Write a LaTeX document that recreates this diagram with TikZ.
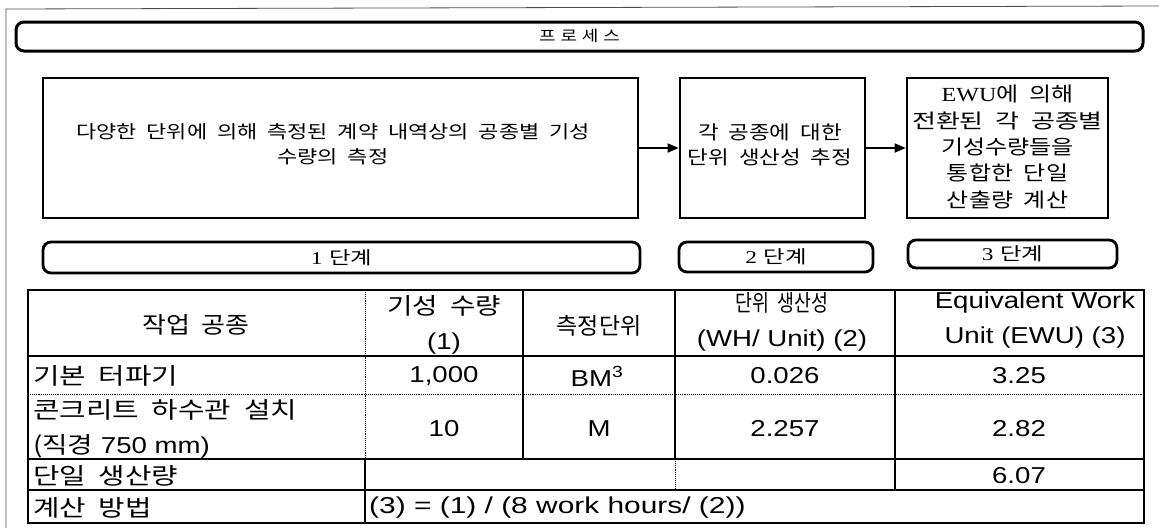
\documentclass[tikz,border=0pt]{standalone}
\usepackage{fontspec}
\usepackage{graphicx}
\setmainfont{Liberation Sans}
\newfontfamily\kr{Noto Sans CJK KR}[WordSpace=2]
\newfontfamily\lserif{Liberation Serif}
\usetikzlibrary{arrows.meta}
\newcommand{\K}[1]{{\kr #1}}
\newcommand{\SX}[2][1.2]{\scalebox{#1}[1]{#2}}
\newcommand{\tabfont}{\fontsize{23}{35}\selectfont}
\begin{document}
\begin{tikzpicture}[x=1pt,y=-1pt,
  box/.style={draw, line width=2.6pt, inner sep=0pt},
  txt/.style={inner sep=0pt, align=center},
  pill/.style={draw, line width=2.8pt, rounded corners=8pt, inner sep=0pt, font=\fontsize{18}{20}\selectfont},
  flow/.style={line width=1.6pt, -{Triangle[length=11pt,width=9pt]}},
  tline/.style={line width=1.1pt},
  tdot/.style={line width=0.9pt, densely dotted},
  cell/.style={inner sep=0pt, align=center, font=\tabfont},
  lcell/.style={inner sep=0pt, align=left, anchor=west, font=\tabfont},
]
\useasboundingbox (0,0) rectangle (1159,528);
% outer frame (scan edge)
\draw[line width=0.8pt, black!70] (6,528) -- (6,9) -- (1159,6);
% title bar
\node[pill, line width=3pt, minimum width=1127pt, minimum height=29pt, font=\fontsize{15}{17}\selectfont] (title) at (579.5,36.5) {\raisebox{3pt}{\SX{\K{프\kern4pt 로\kern4pt 세\kern4pt 스}}}};
% process boxes
\node[box, minimum width=595pt, minimum height=140pt] (b1) at (340.5,148) {};
\node[box, minimum width=185pt, minimum height=140pt] (b2) at (772.5,148) {};
\node[box, minimum width=201pt, minimum height=140pt] (b3) at (1007.5,148) {};
\node[txt, font=\fontsize{18}{25}\selectfont] (t1) at (333,144)
  {\SX[1.22]{\K{다양한 단위에 의해 측정된 계약 내역상의 공종별 기성}}\\\SX[1.22]{\K{수량의 측정}}};
\node[txt, font=\fontsize{19}{25}\selectfont] (t2) at (770,145)
  {\SX[1.18]{\K{각 공종에 대한}}\\\SX[1.18]{\K{단위 생산성 추정}}};
\node[txt, font=\fontsize{20}{26.3}\selectfont] (t3) at (1007.5,147)
  {\SX[1.2]{{\lserif EWU}\K{에 의해}}\\\SX[1.3]{\K{전환된 각 공종별}}\\\SX[1.2]{\K{기성수량들을}}\\\SX[1.2]{\K{통합한 단일}}\\\SX[1.2]{\K{산출량 계산}}};
\draw[flow] (b1) -- (b2);
\draw[flow] (b2) -- (b3);
% stage pills
\node[pill, minimum width=597pt, minimum height=31pt] (s1) at (341.5,257.5) {\SX[1.3]{{\lserif 1} \K{단계}}};
\node[pill, minimum width=194pt, minimum height=30pt] (s2) at (776,257) {\SX[1.3]{{\lserif 2} \K{단계}}};
\node[pill, minimum width=209pt, minimum height=28pt] (s3) at (1012.5,254) {\SX[1.3]{{\lserif 3} \K{단계}}};
% table grid
\draw[tline] (28,290) rectangle (1144,523);
\draw[tline] (28,356) -- (1144,356);
\draw[tdot] (28,394) -- (1144,394);
\draw[tline] (28,459) -- (1144,459);
\draw[tline] (28,490) -- (1144,490);
\draw[tdot] (365,290) -- (365,459);
\draw[tline] (365,459) -- (365,523);
\draw[tline] (523,290) -- (523,459);
\draw[tline] (675,290) -- (675,459);
\draw[tdot] (675,459) -- (675,490);
\draw[tline] (895,290) -- (895,490);
% header
\node[cell] (h1) at (196,325) {\SX[1.13]{\K{작업 공종}}};
\node[cell] (h2) at (444,325) {\SX{\K{기성 수량}}\\\SX{(1)}};
\node[cell] (h3) at (599,326) {\SX[1.0]{\K{측정단위}}};
\node[cell] (h4) at (782,322) {\SX[0.8]{\K{단위 생산성}}\\\SX{(WH/ Unit) (2)}};
\node[cell] (h5) at (1035,320) {\SX{Equivalent Work}\\\SX{Unit (EWU) (3)}};
% row 1
\node[lcell] (r1a) at (33,376) {\SX[1.25]{\K{기본 터파기}}};
\node[cell] (r1b) at (444,376) {\SX{1,000}};
\node[cell] (r1c) at (597,376) {\SX{BM\textsuperscript{3}}};
\node[cell] (r1d) at (785,376) {\SX{0.026}};
\node[cell] (r1e) at (1019,376) {\SX{3.25}};
% row 2
\node[lcell] (r2a) at (33,429) {\SX[1.25]{\K{콘크리트 하수관 설치}}\\\SX[1.2]{\K{(직경} 750 mm)}};
\node[cell] (r2b) at (444,429) {\SX{10}};
\node[cell] (r2c) at (599,429) {\SX{M}};
\node[cell] (r2d) at (785,429) {\SX{2.257}};
\node[cell] (r2e) at (1019,429) {\SX{2.82}};
% row 3
\node[lcell] (r3a) at (33,476) {\SX[1.25]{\K{단일 생산량}}};
\node[cell] (r3e) at (1019,476) {\SX{6.07}};
% row 4
\node[lcell] (r4a) at (33,508) {\SX[1.25]{\K{계산 방법}}};
\node[lcell] (r4b) at (369,508) {\SX[1.3]{(3) = (1) / (8 work hours/ (2))}};
\end{tikzpicture}
\end{document}
